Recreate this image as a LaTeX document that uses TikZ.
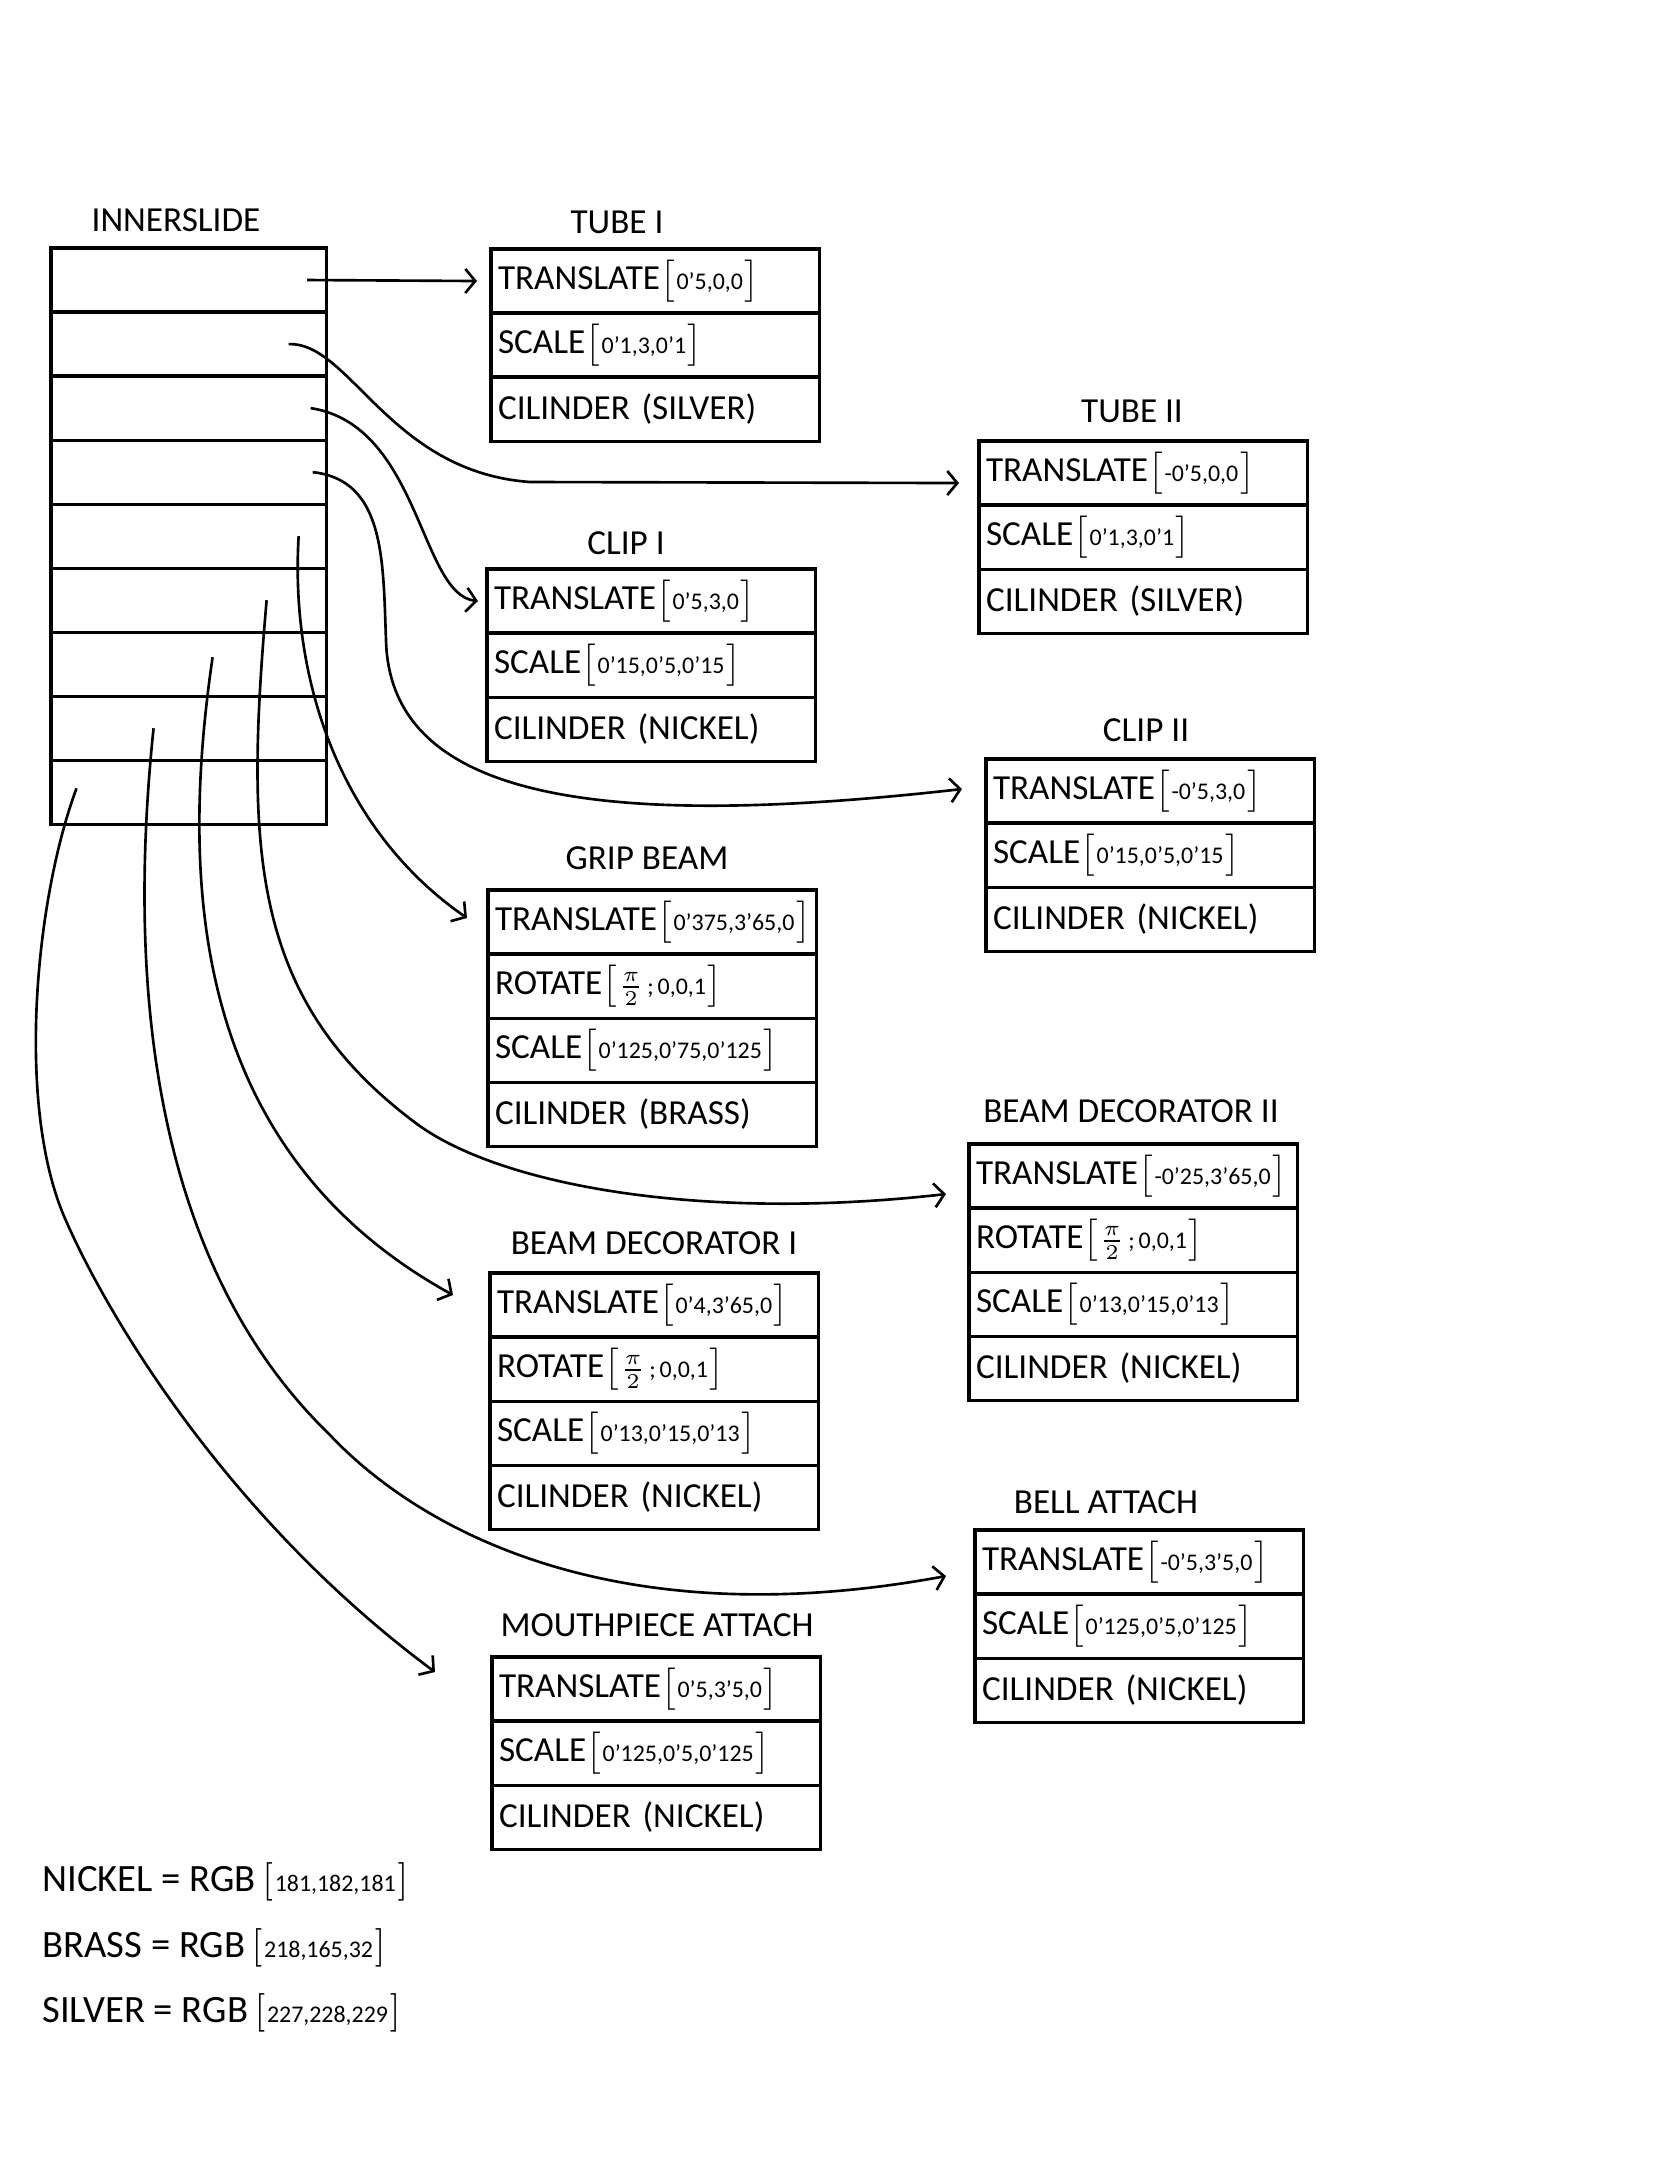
\documentclass[tikz,border=0pt]{standalone}
\usepackage{fontspec}
\setmainfont{Carlito}
\usepackage{tikz}
\usetikzlibrary{positioning,arrows.meta}
\newcommand{\vals}[1]{$\bigl[$\kern0.5pt{\fontsize{6.8}{8}\selectfont #1}\kern0.5pt$\bigr]$}
\newcommand{\halfpi}{{\fontsize{9}{10}\selectfont$\frac{\pi}{2}$}}
\tikzset{slot/.style={draw,line width=0.9pt,outer sep=0pt,minimum width=2.75cm,minimum height=0.64cm}}
\tikzset{field/.style={draw,line width=0.9pt,outer sep=0pt,minimum width=3.28cm,minimum height=0.64cm,text width=3.14cm,inner xsep=0.07cm,inner ysep=0pt,align=left,font=\fontsize{10}{12}\selectfont}}
\tikzset{ttl/.style={font=\fontsize{10}{12}\selectfont}}
\tikzset{note/.style={anchor=west,font=\fontsize{11}{13}\selectfont}}
\tikzset{wire/.style={->,line width=0.75pt}}

\begin{document}
\begin{tikzpicture}[x=0.01cm,y=-0.01cm,>={Straight Barb[length=1mm,width=2.4mm]}]
        \useasboundingbox (0,0) rectangle (1668,2157);

        \node[ttl] (inner) at (176,220) {INNERSLIDE};
        \node[slot,anchor=north west] (s1) at (51,248) {};
        \node[slot,below=0pt of s1] (s2) {};
        \node[slot,below=0pt of s2] (s3) {};
        \node[slot,below=0pt of s3] (s4) {};
        \node[slot,below=0pt of s4] (s5) {};
        \node[slot,below=0pt of s5] (s6) {};
        \node[slot,below=0pt of s6] (s7) {};
        \node[slot,below=0pt of s7] (s8) {};
        \node[slot,below=0pt of s8] (s9) {};

        \node[ttl] (tube1) at (617,222) {TUBE I};
        \node[field,anchor=north west] (t1a) at (491,249) {TRANSLATE\vals{0'5,0,0}};
        \node[field,below=0pt of t1a] (t1b) {SCALE\vals{0'1,3,0'1}};
        \node[field,below=0pt of t1b] (t1c) {CILINDER (SILVER)};

        \node[ttl] (tube2) at (1132,411) {TUBE II};
        \node[field,anchor=north west] (t2a) at (979,441) {TRANSLATE\vals{-0'5,0,0}};
        \node[field,below=0pt of t2a] (t2b) {SCALE\vals{0'1,3,0'1}};
        \node[field,below=0pt of t2b] (t2c) {CILINDER (SILVER)};

        \node[ttl] (clip1) at (626,543) {CLIP I};
        \node[field,anchor=north west] (c1a) at (487,569) {TRANSLATE\vals{0'5,3,0}};
        \node[field,below=0pt of c1a] (c1b) {SCALE\vals{0'15,0'5,0'15}};
        \node[field,below=0pt of c1b] (c1c) {CILINDER (NICKEL)};

        \node[ttl] (clip2) at (1146,730) {CLIP II};
        \node[field,anchor=north west] (c2a) at (986,759) {TRANSLATE\vals{-0'5,3,0}};
        \node[field,below=0pt of c2a] (c2b) {SCALE\vals{0'15,0'5,0'15}};
        \node[field,below=0pt of c2b] (c2c) {CILINDER (NICKEL)};

        \node[ttl] (grip) at (647,858) {GRIP BEAM};
        \node[field,anchor=north west] (gba) at (488,890) {TRANSLATE\vals{0'375,3'65,0}};
        \node[field,below=0pt of gba] (gbb) {ROTATE\vals{\halfpi\,;\,0,0,1}};
        \node[field,below=0pt of gbb] (gbc) {SCALE\vals{0'125,0'75,0'125}};
        \node[field,below=0pt of gbc] (gbd) {CILINDER (BRASS)};

        \node[ttl] (deco2) at (1131,1111) {BEAM DECORATOR II};
        \node[field,anchor=north west] (bd2a) at (969,1144) {TRANSLATE\vals{-0'25,3'65,0}};
        \node[field,below=0pt of bd2a] (bd2b) {ROTATE\vals{\halfpi\,;\,0,0,1}};
        \node[field,below=0pt of bd2b] (bd2c) {SCALE\vals{0'13,0'15,0'13}};
        \node[field,below=0pt of bd2c] (bd2d) {CILINDER (NICKEL)};

        \node[ttl] (deco1) at (654,1243) {BEAM DECORATOR I};
        \node[field,anchor=north west] (bd1a) at (490,1273) {TRANSLATE\vals{0'4,3'65,0}};
        \node[field,below=0pt of bd1a] (bd1b) {ROTATE\vals{\halfpi\,;\,0,0,1}};
        \node[field,below=0pt of bd1b] (bd1c) {SCALE\vals{0'13,0'15,0'13}};
        \node[field,below=0pt of bd1c] (bd1d) {CILINDER (NICKEL)};

        \node[ttl] (bell) at (1106,1502) {BELL ATTACH};
        \node[field,anchor=north west] (baa) at (975,1530) {TRANSLATE\vals{-0'5,3'5,0}};
        \node[field,below=0pt of baa] (bab) {SCALE\vals{0'125,0'5,0'125}};
        \node[field,below=0pt of bab] (bac) {CILINDER (NICKEL)};

        \node[ttl] (mouth) at (657,1625) {MOUTHPIECE ATTACH};
        \node[field,anchor=north west] (mpa) at (492,1657) {TRANSLATE\vals{0'5,3'5,0}};
        \node[field,below=0pt of mpa] (mpb) {SCALE\vals{0'125,0'5,0'125}};
        \node[field,below=0pt of mpb] (mpc) {CILINDER (NICKEL)};

        \node[note] (nickel) at (30,1881) {NICKEL = RGB\,\vals{181,182,181}};
        \node[note] (brass) at (30,1947) {BRASS = RGB\,\vals{218,165,32}};
        \node[note] (silver) at (30,2012) {SILVER = RGB\,\vals{227,228,229}};

        \draw[wire] ([xshift=-0.19cm]s1.east) -- ([xshift=-0.14cm]t1a.west);
        \draw[wire] ([xshift=1cm]s2.center) .. controls (350,342) and (390,472) .. (530,482) -- ([xshift=-0.2cm,yshift=-0.1cm]t2a.west);
        \draw[wire] ([xshift=1.22cm]s3.center) .. controls (420,425) and (420,595) .. ([xshift=-0.09cm]c1a.west);
        \draw[wire] ([xshift=1.24cm]s4.center) .. controls (385,480) and (383,560) .. (386,640) .. controls (390,800) and (600,830) .. ([xshift=-0.24cm,yshift=0.02cm]c2a.west);
        \draw[wire] ([xshift=1.1cm]s5.center) .. controls (290,680) and (340,830) .. ([xshift=-0.21cm,yshift=0.04cm]gba.west);
        \draw[wire] ([xshift=0.78cm]s6.center) .. controls (245,850) and (250,1000) .. (417,1124) .. controls (500,1185) and (700,1222) .. ([xshift=-0.23cm,yshift=-0.18cm]bd2a.west);
        \draw[wire] ([xshift=0.24cm,yshift=0.07cm]s7.center) .. controls (180,880) and (190,1150) .. ([xshift=-0.37cm,yshift=0.1cm]bd1a.west);
        \draw[wire] ([xshift=-0.35cm]s8.center) .. controls (120,1050) and (180,1290) .. (330,1435) .. controls (410,1520) and (600,1640) .. ([xshift=-0.29cm,yshift=-0.14cm]baa.west);
        \draw[wire] ([xshift=-1.12cm,yshift=0.04cm]s9.center) .. controls (35,900) and (15,1110) .. (67,1223) .. controls (110,1320) and (230,1520) .. ([xshift=-0.57cm,yshift=0.17cm]mpa.west);
    \end{tikzpicture}
\end{document}
